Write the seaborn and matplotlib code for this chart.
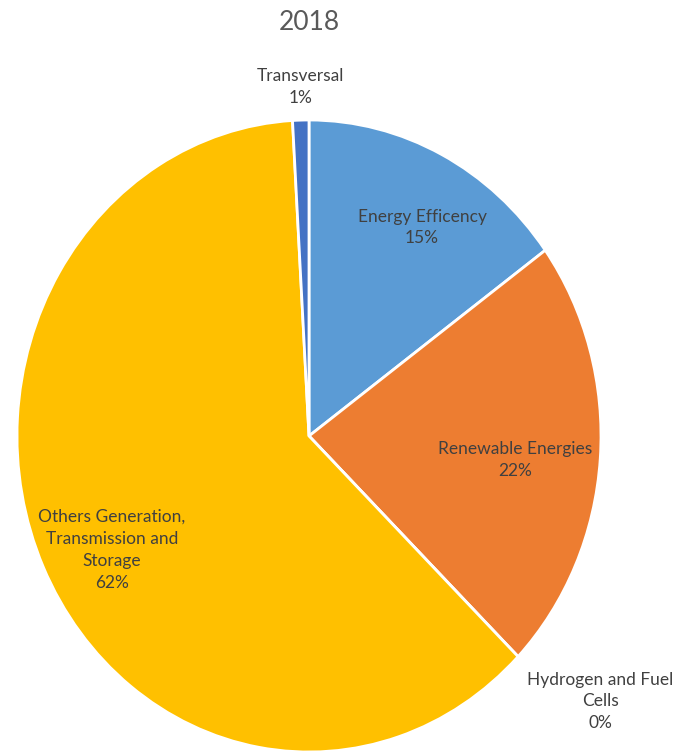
import matplotlib
matplotlib.use("Agg")
import matplotlib.pyplot as plt
import seaborn as sns

sns.set_theme(style="white")
plt.rcParams['font.family'] = ['Lato', 'DejaVu Sans']

categories = ["Energy Efficency", "Renewable Energies", "Hydrogen and Fuel\nCells",
              "Others Generation,\nTransmission and\nStorage", "Transversal"]
values = [15.0, 22.3, 0.0, 61.8, 0.9]
pct_labels = ["15%", "22%", "0%", "62%", "1%"]
colors = ["#5B9BD5", "#ED7D31", "#A5A5A5", "#FFC000", "#4472C4"]
label_pos = [(0.387, 0.66), (0.705, -0.076), (0.997, -0.84), (-0.675, -0.36), (-0.03, 1.105)]

fig = plt.figure(figsize=(6.81, 7.52), dpi=100)
ax = fig.add_axes([17 / 681, 0.0, 584 / 681, 632 / 752])
ax.pie(values, colors=colors, startangle=90, counterclock=False, radius=1,
       wedgeprops=dict(edgecolor="white", linewidth=2), frame=False)
ax.set_aspect("auto")
ax.set_xlim(-1, 1)
ax.set_ylim(-1, 1)
ax.axis("off")

for cat, pct, (x, y) in zip(categories, pct_labels, label_pos):
    ax.text(x, y, f"{cat}\n{pct}", ha="center", va="center", fontsize=12.5,
            color="#404040", linespacing=1.45, clip_on=False)

fig.text(309 / 681, 1 - 22 / 752, "2018", ha="center", va="center",
         fontsize=19, color="#595959")

fig.savefig("out.png", dpi=100)
